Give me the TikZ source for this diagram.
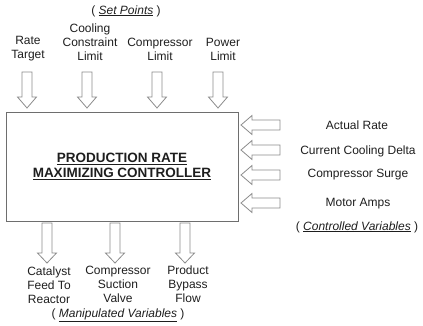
\documentclass[tikz,border=0pt]{standalone}
\usepackage{fontspec}
\setmainfont{Liberation Sans}
\definecolor{arrgray}{HTML}{8C8C8C}
\definecolor{boxgray}{HTML}{6E6E6E}
\definecolor{txt}{HTML}{1E1E1E}
\begin{document}
\begin{tikzpicture}[x=1pt,y=-1pt,
  lbl/.style={font=\fontsize{12}{14}\selectfont, text=txt, align=center, inner sep=0pt},
  title/.style={font=\fontsize{13.5}{15.5}\selectfont\bfseries, text=txt, align=center, inner sep=0pt},
  arr/.style={draw=arrgray, line width=0.8pt, line join=miter, fill=white},
  pics/darrtop/.style={code={\draw[arr] (-5,0) -- (5,0) -- (5,25) -- (9.5,25) -- (0,36) -- (-9.5,25) -- (-5,25) -- cycle;}},
  pics/darrbot/.style={code={\draw[arr] (-5,0) -- (5,0) -- (5,30) -- (9.5,30) -- (0,40) -- (-9.5,30) -- (-5,30) -- cycle;}},
  pics/larr/.style={code={\draw[arr] (0,-5) -- (0,5) -- (-28,5) -- (-28,9.5) -- (-39,0) -- (-28,-9.5) -- (-28,-5) -- cycle;}}
]
\useasboundingbox (0,0) rectangle (423,326);
% main box
\node[draw=boxgray, line width=0.6pt, minimum width=232pt, minimum height=109pt, inner sep=0pt] (ctrl) at (122,166.5) {};
\node[title] (ttl) at (ctrl.center) {\underline{PRODUCTION RATE}\\\underline{MAXIMIZING CONTROLLER}};

% set points
\node[lbl] (sp) at (126,11) {( \textit{\underline{Set Points}} )};
\node[lbl] (t1) at (28,49) {Rate\\Target};
\node[lbl] (t2) at (90,42) {Cooling\\Constraint\\Limit};
\node[lbl] (t3) at (160,49) {Compressor\\Limit};
\node[lbl] (t4) at (223,49) {Power\\Limit};
\pic at (27,72) {darrtop};
\pic at (87,72) {darrtop};
\pic at (157,72) {darrtop};
\pic at (218,72) {darrtop};

% controlled variables
\node[lbl] (c1) at (357,125) {Actual Rate};
\node[lbl] (c2) at (358,151) {Current Cooling Delta};
\node[lbl] (c3) at (358,175) {Compressor Surge};
\node[lbl] (c4) at (358,204) {Motor Amps};
\node[lbl] (cv) at (357,227) {( \textit{\underline{Controlled Variables}} )};
\pic at (280,125) {larr};
\pic at (280,150) {larr};
\pic at (280,175) {larr};
\pic at (280,203) {larr};

% manipulated variables
\pic at (47,223) {darrbot};
\pic at (115,223) {darrbot};
\pic at (185,223) {darrbot};
\node[lbl] (m1) at (49,285) {Catalyst\\Feed To\\Reactor};
\node[lbl] (m2) at (118,284) {Compressor\\Suction\\Valve};
\node[lbl] (m3) at (188,284) {Product\\Bypass\\Flow};
\node[lbl] (mv) at (118,315) {( \textit{\underline{Manipulated Variables}} )};
\end{tikzpicture}
\end{document}
